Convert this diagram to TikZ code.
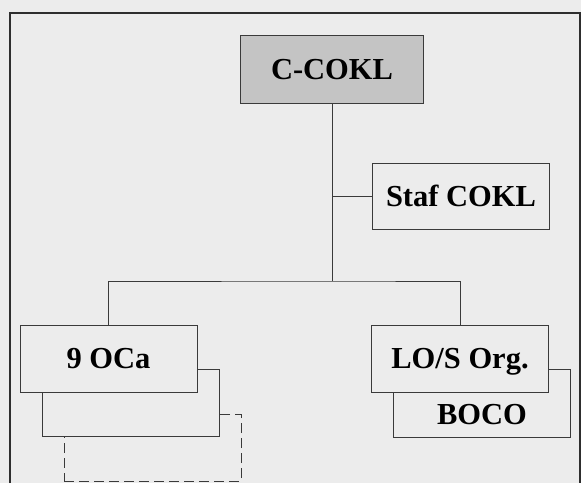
\documentclass[tikz,border=0pt]{standalone}
\usepackage{fontspec}
\setmainfont{Liberation Serif}
\definecolor{paper}{HTML}{ECECEC}
\definecolor{ink}{HTML}{3A3A3A}
\definecolor{topgray}{HTML}{C4C4C4}
\tikzset{
  box/.style={draw=ink,fill=paper,line width=1pt,minimum width=177pt,minimum height=67pt,inner sep=0pt,text height=20pt,text depth=0pt,font=\fontsize{30.5}{33}\selectfont\bfseries},
  boxk/.style={box,fill=topgray,minimum width=183pt,minimum height=68pt},
  boxd/.style={box,dash pattern=on 10pt off 5pt},
  link/.style={draw=ink,line width=1pt},
  frame/.style={draw=ink!80!black,line width=1.8pt},
}
\begin{document}
\begin{tikzpicture}[x=1pt,y=-1pt]
\fill[paper] (0,0) rectangle (581,483);
\useasboundingbox (0,0) rectangle (581,483);
\draw[frame] (10,483) -- (10,13) -- (580,13) -- (580,483);
\node[boxk] (cokl) at (332,69) {C-COKL};
\node[box,minimum height=66pt] (staf) at (461,196) {Staf COKL};
% 9 OCa with its hidden units
\node[boxd] (ocadash) at (152.5,447.5) {};
\node[box] (ocaback) at (130.5,402.5) {};
\node[box] (oca) at (108.5,358.5) {9 OCa};
% LO/S with BOCO
\node[box,text height=42pt,minimum height=68pt] (boco) at (482,403) {BOCO};
\node[box] (los) at (460,358.5) {LO/S Org.};
\coordinate (split) at (332,281);
\draw[link] (cokl) -- (split);
\draw[link] (staf.west) -- (staf.west -| cokl);
\draw[link] (oca.north) |- (split) -| (los.north);
\end{tikzpicture}
\end{document}
